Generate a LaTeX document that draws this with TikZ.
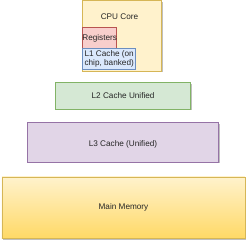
\documentclass[tikz,border=0pt]{standalone}
\usepackage{fontspec}
\setmainfont{Liberation Sans}
\usetikzlibrary{shadows}
\definecolor{yfill}{HTML}{FFF2CC}
\definecolor{ydraw}{HTML}{D6B656}
\definecolor{ybot}{HTML}{FFD966}
\definecolor{rfill}{HTML}{F8CECC}
\definecolor{rdraw}{HTML}{B85450}
\definecolor{bfill}{HTML}{DAE8FC}
\definecolor{bdraw}{HTML}{6C8EBF}
\definecolor{gfill}{HTML}{D5E8D4}
\definecolor{gdraw}{HTML}{82B366}
\definecolor{pfill}{HTML}{E1D5E7}
\definecolor{pdraw}{HTML}{9673A6}
\tikzset{
  box/.style={rectangle, inner sep=0pt, line width=0.6pt, font=\fontsize{8.2}{9.6}\selectfont, text=black!85},
  shad/.style={drop shadow={shadow xshift=1.5pt, shadow yshift=-1.5pt, opacity=0.25, fill=black}},
}
\begin{document}
\begin{tikzpicture}[x=1pt,y=-1pt]
\useasboundingbox (0,0) rectangle (250,243);
% CPU core
\path[shad, fill=yfill, draw=ydraw, line width=0.6pt] (82.7,0.6) rectangle (161.7,71);
\node[box] (cpu) at (119.5,17) {CPU Core};
\path[fill=rfill, draw=rdraw, line width=0.6pt] (82.7,27) rectangle (116.7,49);
\node[box] (reg) at (99.7,38.2) {Registers};
\path[fill=bfill, draw=bdraw, line width=0.6pt] (82.7,48.5) rectangle (135.7,69.2);
\node[box, align=left] (l1) at (109.2,59) {L1 Cache (on\\chip, banked)};
% L2
\path[shad, fill=gfill, draw=gdraw, line width=0.6pt] (55.5,82.5) rectangle (190.7,109);
\node[box] (l2) at (123.1,96) {L2 Cache Unified};
% L3
\path[shad, fill=pfill, draw=pdraw, line width=0.6pt] (27.5,122.5) rectangle (218.5,162);
\node[box] (l3) at (123,144) {L3 Cache (Unified)};
% Main memory
\path[shad, top color=yfill, bottom color=ybot, draw=ydraw, line width=0.6pt] (2,177) rectangle (245,238.5);
\node[box] (mm) at (123.5,207.8) {Main Memory};
\end{tikzpicture}
\end{document}
